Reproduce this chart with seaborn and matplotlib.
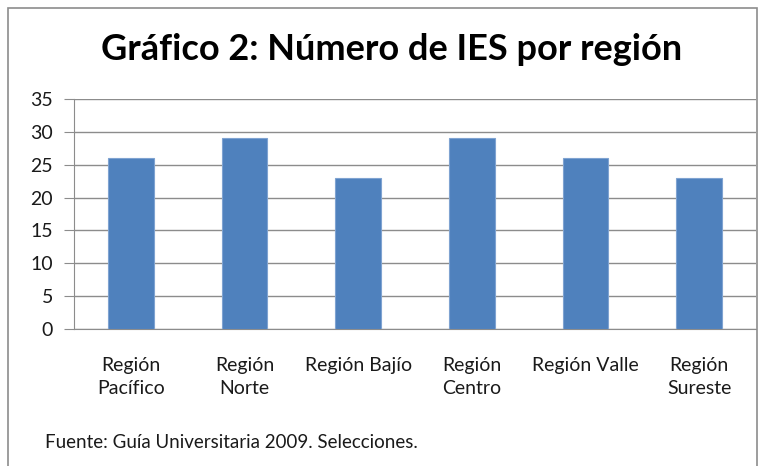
import matplotlib
matplotlib.use("Agg")
import matplotlib.pyplot as plt
import seaborn as sns
import pandas as pd
from matplotlib.patches import Rectangle

# data
regiones = ["Región\nPacífico", "Región\nNorte", "Región Bajío",
            "Región\nCentro", "Región Valle", "Región\nSureste"]
num_ies = [26, 29, 23, 29, 26, 23]
y_ticks = [0, 5, 10, 15, 20, 25, 30, 35]

df = pd.DataFrame({"region": regiones, "ies": num_ies})

sns.set_style("white")
plt.rcParams["font.family"] = ["Lato", "DejaVu Sans"]

W, H = 766, 466
fig = plt.figure(figsize=(W / 100, H / 100), dpi=100)
ax = fig.add_axes([74 / W, 1 - 329 / H, (756 - 74) / W, (329 - 99) / H])

sns.barplot(data=df, x="region", y="ies", color="#4F81BD", width=0.4,
            edgecolor="#7FA3D1", linewidth=0.8, saturation=1, ax=ax, zorder=3)

ax.set_ylim(0, 35)
ax.set_yticks(y_ticks)
ax.yaxis.grid(True, color="#8C8C8C", linewidth=1, zorder=0)
ax.set_axisbelow(True)
ax.set_xlabel("")
ax.set_ylabel("")
for s in ["top", "right"]:
    ax.spines[s].set_visible(False)
ax.spines["left"].set_color("#8C8C8C")
ax.spines["bottom"].set_color("#8C8C8C")
ax.tick_params(axis="y", length=7, color="#8C8C8C", labelsize=14, pad=8,
               left=True)
ax.tick_params(axis="x", length=0, labelsize=14, pad=20)
for lab in ax.get_xticklabels() + ax.get_yticklabels():
    lab.set_color("#1a1a1a")
for lab in ax.get_xticklabels():
    lab.set_linespacing(1.45)

fig.text(392 / W, 1 - 50 / H, "Gráfico 2: Número de IES por región",
         ha="center", va="center", fontsize=26, fontweight="bold", color="black")
fig.text(45 / W, 1 - 442 / H, "Fuente: Guía Universitaria 2009. Selecciones.",
         ha="left", va="center", fontsize=13.5, color="#1a1a1a")

# outer chart border
fig.patches.append(Rectangle((8 / W, -0.05), (757 - 8) / W, 1 - 8 / H + 0.05,
                             transform=fig.transFigure, fill=False,
                             edgecolor="#8C8C8C", linewidth=1.2))

fig.savefig("out.png", dpi=100, facecolor="white")
